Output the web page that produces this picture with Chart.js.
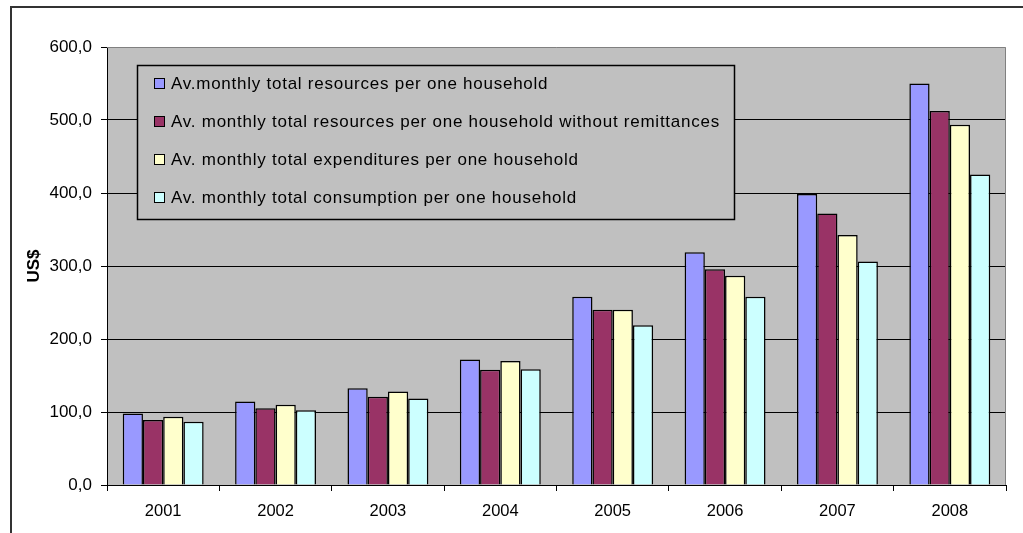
<!DOCTYPE html>
<html>
<head>
<meta charset="utf-8">
<script src="https://cdn.jsdelivr.net/npm/chart.js@4.4.0/dist/chart.umd.min.js"></script>
<style>
  html, body { margin: 0; padding: 0; background: #fff; }
  #wrap { width: 1023px; height: 533px; }
</style>
</head>
<body>
<div id="wrap"><canvas id="c" width="1023" height="533"></canvas></div>
<script>
const years = ['2001', '2002', '2003', '2004', '2005', '2006', '2007', '2008'];
const seriesNames = [
  'Av.monthly total resources per one household',
  'Av. monthly total resources per one household without remittances',
  'Av. monthly total expenditures per one household',
  'Av. monthly total consumption per one household'
];
const totalResources = [98, 114.5, 132.5, 172, 258, 319, 398.5, 550];
const resourcesNoRemit = [89, 105, 121, 158, 240, 295.5, 372, 512.5];
const expenditures = [93.5, 110, 128, 170, 240, 286.5, 342.5, 493.5];
const consumption = [86.5, 102.5, 118.5, 158.5, 219, 258, 306, 425.5];
const yTicks = [0, 100, 200, 300, 400, 500, 600];
const colors = ['#9999ff', '#993366', '#ffffcc', '#ccffff'];
const yTitle = 'US$';

const FONT = '"Liberation Sans", Arial, sans-serif';

const bgPlugin = {
  id: 'bgPlugin',
  beforeDraw(chart) {
    const ctx = chart.ctx, a = chart.chartArea;
    ctx.save();
    ctx.fillStyle = '#ffffff';
    ctx.fillRect(0, 0, chart.width, chart.height);
    ctx.fillStyle = '#c0c0c0';
    ctx.fillRect(a.left, a.top, a.right - a.left, a.bottom - a.top);
    ctx.strokeStyle = '#333333';
    ctx.lineWidth = 2;
    ctx.beginPath();
    ctx.moveTo(11, chart.height);
    ctx.lineTo(11, 7);
    ctx.lineTo(chart.width, 7);
    ctx.stroke();
    ctx.restore();
  },
  afterDraw(chart) {
    const ctx = chart.ctx, a = chart.chartArea;
    ctx.save();
    ctx.strokeStyle = '#808080';
    ctx.lineWidth = 1;
    ctx.beginPath();
    ctx.moveTo(a.left, a.top + 0.5);
    ctx.lineTo(a.right - 0.5, a.top + 0.5);
    ctx.lineTo(a.right - 0.5, a.bottom);
    ctx.stroke();
    ctx.restore();
  }
};

const legendPlugin = {
  id: 'boxLegend',
  afterDatasetsDraw(chart) {
    const ctx = chart.ctx;
    ctx.save();
    const bx = 137.5, by = 65.5, bw = 597, bh = 154;
    ctx.fillStyle = '#c0c0c0';
    ctx.fillRect(bx, by, bw, bh);
    ctx.strokeStyle = '#000';
    ctx.lineWidth = 1.5;
    ctx.strokeRect(bx, by, bw, bh);
    ctx.font = '17px ' + FONT;
    ctx.textBaseline = 'middle';
    ctx.textAlign = 'left';
    if ('letterSpacing' in ctx) ctx.letterSpacing = '0.75px';
    chart.data.datasets.forEach((ds, i) => {
      const cy = 83.5 + i * 38;
      ctx.fillStyle = ds.backgroundColor;
      ctx.fillRect(154.5, cy - 5, 10, 10);
      ctx.strokeStyle = '#000';
      ctx.lineWidth = 1;
      ctx.strokeRect(154.5, cy - 5, 10, 10);
      ctx.fillStyle = '#000';
      ctx.fillText(ds.label, 171, cy + 1);
    });
    ctx.restore();
  }
};

const seriesData = [totalResources, resourcesNoRemit, expenditures, consumption];

new Chart(document.getElementById('c'), {
  type: 'bar',
  data: {
    labels: years,
    datasets: seriesData.map((d, i) => ({
      label: seriesNames[i],
      data: d,
      backgroundColor: colors[i],
      borderColor: '#000',
      borderWidth: 1.5,
      categoryPercentage: 0.72,
      barPercentage: 1.0
    }))
  },
  options: {
    responsive: false,
    animation: false,
    devicePixelRatio: 1,
    layout: { padding: { left: 0, top: 47, right: 17, bottom: 0 } },
    plugins: {
      legend: { display: false },
      tooltip: { enabled: false },
      title: { display: false }
    },
    scales: {
      x: {
        offset: true,
        grid: {
          offset: true,
          drawOnChartArea: false,
          drawTicks: true,
          tickLength: 6,
          tickColor: '#000',
          lineWidth: 1
        },
        border: { display: true, color: '#000', width: 1 },
        ticks: {
          color: '#000',
          font: { family: FONT, size: 16.5 },
          padding: 11,
          maxRotation: 0
        },
        afterFit(scale) { scale.height = 48; }
      },
      y: {
        min: 0,
        max: 600,
        afterBuildTicks(scale) { scale.ticks = yTicks.map(v => ({ value: v })); },
        grid: {
          color: (c) => (c.tick && c.tick.value > 0 && c.tick.value < 600) ? '#000' : 'rgba(0,0,0,0)',
          lineWidth: 1,
          drawTicks: true,
          tickLength: 6,
          tickColor: '#000'
        },
        border: { display: true, color: '#000', width: 1 },
        ticks: {
          color: '#000',
          font: { family: FONT, size: 17 },
          padding: 9,
          callback: (v) => Number(v).toFixed(1).replace('.', ',')
        },
        title: {
          display: true,
          text: yTitle,
          color: '#000',
          font: { family: FONT, size: 17, weight: 'bold' },
          padding: { top: 24, bottom: 0 }
        },
        afterFit(scale) { scale.width = 107; }
      }
    }
  },
  plugins: [bgPlugin, legendPlugin]
});
</script>
</body>
</html>
